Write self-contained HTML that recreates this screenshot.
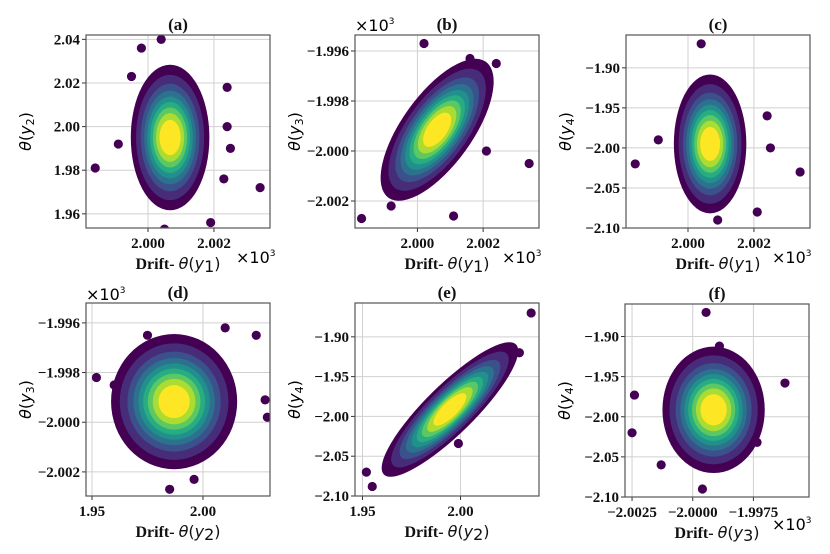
<!DOCTYPE html>
<html><head><meta charset="utf-8">
<style>
body{margin:0;background:#fff;}
svg{display:block;}
.tick{font-family:"Liberation Serif",serif;font-weight:bold;font-size:15px;fill:#111;}
.ttl{font-family:"Liberation Serif",serif;font-weight:bold;font-size:17px;fill:#111;}
.lab{font-family:"Liberation Serif",serif;font-weight:bold;font-size:16px;fill:#111;}
.math{font-family:"DejaVu Sans",sans-serif;font-weight:normal;font-style:normal;font-size:16px;}
.mi{font-style:italic;}
</style></head>
<body>
<svg id="fig" width="830" height="554" viewBox="0 0 830 554"></svg>
<script>
// ---- data (values in axis units, ×10^3 implied where shown) ----
const panelIds = ['a','b','c','d','e','f'];
const xTickVals = [[2.000,2.002],[2.000,2.002],[2.000,2.002],[1.95,2.00],[1.95,2.00],[-2.0025,-2.0000,-1.9975]];
const xTickLabels = [['2.000','2.002'],['2.000','2.002'],['2.000','2.002'],['1.95','2.00'],['1.95','2.00'],['\u22122.0025','\u22122.0000','\u22121.9975']];
const yTickVals = [[1.96,1.98,2.00,2.02,2.04],[-2.002,-2.000,-1.998,-1.996],[-2.10,-2.05,-2.00,-1.95,-1.90],[-2.002,-2.000,-1.998,-1.996],[-2.10,-2.05,-2.00,-1.95,-1.90],[-2.10,-2.05,-2.00,-1.95,-1.90]];
const yTickLabels = [['1.96','1.98','2.00','2.02','2.04'],['\u22122.002','\u22122.000','\u22121.998','\u22121.996'],['\u22122.10','\u22122.05','\u22122.00','\u22121.95','\u22121.90'],['\u22122.002','\u22122.000','\u22121.998','\u22121.996'],['\u22122.10','\u22122.05','\u22122.00','\u22121.95','\u22121.90'],['\u22122.10','\u22122.05','\u22122.00','\u22121.95','\u22121.90']];
const xDomains = [[1.99812,2.00370],[1.99810,2.00370],[1.99812,2.00370],[1.9473,2.0302],[1.9462,2.0400],[-2.00279,-1.99521]];
const yDomains = [[1.9535,2.0420],[-2.00308,-1.99536],[-2.100,-1.859],[-2.00297,-1.99520],[-2.100,-1.8575],[-2.100,-1.8595]];
const cloudCenterX = [2.00067,2.00060,2.00067,1.9870,1.9946,-1.99914];
const cloudCenterY = [1.9950,-1.99915,-1.995,-1.99917,-1.9913,-1.9914];
const cloudMajorX = [0,0.00143,0,0,0.0326,0];
const cloudMajorY = [0.032,0.00262,0.083,0.0026,0.079,0.075];
const cloudMinorRatio = [0.52,0.40,0.50,0.93,0.24,0.80];
const outX = [
 [1.9984,2.0034,2.0004,1.9998,2.0024,2.0010,2.0005,2.0019,2.0023,1.9991,2.0024,1.9995,2.0025],
 [1.9983,2.0034,2.0002,2.0011,2.0021,2.0024,1.9992,2.0016,1.9999],
 [1.9984,2.0034,2.0004,2.0009,2.0021,2.0024,1.9991,2.0025],
 [1.952,2.029,1.985,2.024,1.960,1.996,2.028,2.010,1.975],
 [2.036,2.030,1.952,1.955,1.9989,2.020],
 [-1.99945,-2.0025,-2.0024,-1.9962,-1.9996,-1.99735,-2.0013,-1.9989]];
const outY = [
 [1.981,1.972,2.040,2.036,2.018,1.951,1.953,1.956,1.976,1.992,2.000,2.023,1.990],
 [-2.0027,-2.0005,-1.9957,-2.0026,-2.0000,-1.9965,-2.0022,-1.9963,-1.9985],
 [-2.020,-2.030,-1.870,-2.090,-2.080,-1.960,-1.990,-2.000],
 [-1.9982,-1.9998,-2.0027,-1.9965,-1.9985,-2.0023,-1.9991,-1.9962,-1.9965],
 [-1.870,-1.920,-2.070,-2.088,-2.034,-1.925],
 [-1.870,-2.020,-1.973,-1.958,-2.090,-2.032,-2.060,-1.912]];
const xLabelSub = ['1','1','1','2','2','3'];
const yLabelSub = ['2','3','4','3','4','4'];

const boxL=[86,355,626,86,355,625], boxT=[35,35,35,303,303,304], boxW=184, boxH=193;
const viridis=['#440154','#472c7a','#3b518b','#2c718e','#21908d','#27ad81','#5cc863','#aadc32','#fde725'];
const NS='http://www.w3.org/2000/svg';
const svg=document.getElementById('fig');
function mk(tag,attrs,parent){const e=document.createElementNS(NS,tag);for(const k in attrs)e.setAttribute(k,attrs[k]);(parent||svg).appendChild(e);return e;}

panelIds.forEach((id,i)=>{
  const L=boxL[i],T=boxT[i],W=boxW,H=boxH;
  const g=mk('g',{});
  
  
  const sx=v=>L+(v-xDomains[i][0])/(xDomains[i][1]-xDomains[i][0])*W;
  const sy=v=>T+H-(v-yDomains[i][0])/(yDomains[i][1]-yDomains[i][0])*H;
  const cid='clip'+id;
  const cp=mk('clipPath',{id:cid},g); mk('rect',{x:L,y:T,width:W,height:H},cp);
  xTickVals[i].forEach((v,k)=>{const x=sx(v);
    const ln=mk('line',{x1:x,x2:x,y1:T,y2:T+H,stroke:'#d0d0d0','stroke-width':1},g);
    
    
    mk('line',{x1:x,x2:x,y1:T+H,y2:T+H+4,stroke:'#333','stroke-width':1},g);
    const t=mk('text',{x:x,y:T+H+20,'text-anchor':'middle',class:'tick'},g);t.textContent=xTickLabels[i][k];
    
    
  });
  yTickVals[i].forEach((v,k)=>{const y=sy(v); if(y<T-1||y>T+H+1)return;
    const ln=mk('line',{x1:L,x2:L+W,y1:y,y2:y,stroke:'#d0d0d0','stroke-width':1},g);
    
    
    mk('line',{x1:L-4,x2:L,y1:y,y2:y,stroke:'#333','stroke-width':1},g);
    const t=mk('text',{x:L-6,y:y+5,'text-anchor':'end',class:'tick'},g);t.textContent=yTickLabels[i][k];
    
    
  });
  const pg=mk('g',{'clip-path':'url(#'+cid+')'},g);
  
  
  outX[i].forEach((v,k)=>{
    const c=mk('circle',{cx:sx(v),cy:sy(outY[i][k]),r:4.6,fill:'#440154'},pg);
    
    
  });
  const cx=sx(cloudCenterX[i]),cy=sy(cloudCenterY[i]);
  const mx=sx(cloudCenterX[i]+cloudMajorX[i])-cx, my=sy(cloudCenterY[i]+cloudMajorY[i])-cy;
  const len=Math.hypot(mx,my), ang=Math.atan2(my,mx)*180/Math.PI;
  const n=viridis.length;
  const norm=Math.sqrt(-Math.log(0.5/(n+0.5)));
  viridis.forEach((col,k)=>{
    let f=Math.sqrt(-Math.log((k+0.5)/(n+0.5)))/norm;
    if(k>0) f*=1.08;
    const e=mk('ellipse',{cx:cx,cy:cy,rx:len*f+3,ry:len*cloudMinorRatio[i]*f+3,fill:col,transform:`rotate(${ang} ${cx} ${cy})`},pg);
    
    
  });
  const b=mk('rect',{x:L,y:T,width:W,height:H,fill:'none',stroke:'#555','stroke-width':1.2},g);
  
  
  const tt=mk('text',{x:L+W/2,y:T-5,'text-anchor':'middle',class:'ttl'},g);tt.textContent='('+id+')';
  
  
  const xl=mk('text',{x:L+W/2,y:T+H+41,'text-anchor':'middle',class:'lab'},g);
  
  
  xl.innerHTML='Drift- <tspan class="math mi">θ</tspan><tspan class="math">(</tspan><tspan class="math mi">y</tspan><tspan class="math" font-size="11" dy="3">'+xLabelSub[i]+'</tspan><tspan class="math" dy="-3">)</tspan>';
  const yx=L-55, yy=T+H/2;
  const yl=mk('text',{x:yx,y:yy,'text-anchor':'middle',transform:`rotate(-90 ${yx} ${yy})`,class:'math'},g);
  
  
  yl.innerHTML='<tspan class="mi">θ</tspan>(<tspan class="mi">y</tspan><tspan font-size="11" dy="3">'+yLabelSub[i]+'</tspan><tspan dy="-3">)</tspan>';
});
const multPos=[[236,263],[502,263],[772,263],[86,300],[355,31],[772,530]];
multPos.forEach(p=>{
  const t=mk('text',{x:p[0],y:p[1],class:'math'});
  
  
  t.innerHTML='×10<tspan font-size="9" dy="-7">3</tspan>';
});
</script>
</body></html>
